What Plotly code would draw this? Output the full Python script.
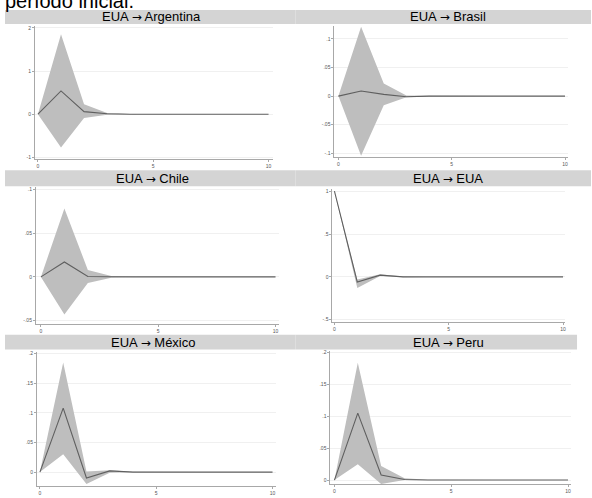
import plotly.graph_objects as go

W, H = 592, 498

# ---------------- data ----------------
periods = [0, 1, 2, 3, 4, 5, 6, 7, 8, 9, 10]
titles = ["EUA → Argentina", "EUA → Brasil", "EUA → Chile",
          "EUA → EUA", "EUA → México", "EUA → Peru"]
top_text = "período inicial."

irf_arg = [0, 0.54, 0.06, 0.01, 0.0, 0, 0, 0, 0, 0, 0]
up_arg = [0, 1.85, 0.23, 0.03, 0.004, 0, 0, 0, 0, 0, 0]
lo_arg = [0, -0.77, -0.09, -0.012, -0.002, 0, 0, 0, 0, 0, 0]

irf_bra = [0, 0.009, 0.003, -0.001, 0.0, 0, 0, 0, 0, 0, 0]
up_bra = [0, 0.121, 0.022, 0.001, 0.0005, 0, 0, 0, 0, 0, 0]
lo_bra = [0, -0.104, -0.016, -0.002, -0.0005, 0, 0, 0, 0, 0, 0]

irf_chi = [0, 0.017, 0.0005, 0.0, 0.0, 0, 0, 0, 0, 0, 0]
up_chi = [0, 0.078, 0.008, 0.001, 0.0002, 0, 0, 0, 0, 0, 0]
lo_chi = [0, -0.043, -0.007, -0.001, -0.0002, 0, 0, 0, 0, 0, 0]

irf_eua = [1, -0.06, 0.02, 0.0, 0.0, 0, 0, 0, 0, 0, 0]
up_eua = [1, -0.03, 0.03, 0.004, 0.0, 0, 0, 0, 0, 0, 0]
lo_eua = [1, -0.13, 0.01, -0.003, 0.0, 0, 0, 0, 0, 0, 0]

irf_mex = [0, 0.108, -0.010, 0.002, 0.0, 0, 0, 0, 0, 0, 0]
up_mex = [0, 0.185, 0.001, 0.003, 0.0005, 0, 0, 0, 0, 0, 0]
lo_mex = [0, 0.030, -0.020, -0.001, 0.0, 0, 0, 0, 0, 0, 0]

irf_per = [0, 0.105, 0.008, 0.001, 0.0, 0, 0, 0, 0, 0, 0]
up_per = [0, 0.184, 0.022, 0.003, 0.0005, 0, 0, 0, 0, 0, 0]
lo_per = [0, 0.025, -0.006, 0.0, 0.0, 0, 0, 0, 0, 0, 0]

xticks = [0, 5, 10]
xtick_labels = ["0", "5", "10"]

yt_arg = [-1, 0, 1, 2];            yl_arg = ["-1", "0", "1", "2"]
yt_bra = [-0.1, -0.05, 0, 0.05, 0.1]; yl_bra = ["-.1", "-.05", "0", ".05", ".1"]
yt_chi = [-0.05, 0, 0.05, 0.1];    yl_chi = ["-.05", "0", ".05", ".1"]
yt_eua = [-0.5, 0, 0.5, 1];        yl_eua = ["-.5", "0", ".5", "1"]
yt_mex = [0, 0.05, 0.1, 0.15, 0.2]; yl_mex = ["0", ".05", ".1", ".15", ".2"]
yt_per = [0, 0.05, 0.1, 0.15, 0.2]; yl_per = ["0", ".05", ".1", ".15", ".2"]

series = [
    (irf_arg, up_arg, lo_arg, yt_arg, yl_arg),
    (irf_bra, up_bra, lo_bra, yt_bra, yl_bra),
    (irf_chi, up_chi, lo_chi, yt_chi, yl_chi),
    (irf_eua, up_eua, lo_eua, yt_eua, yl_eua),
    (irf_mex, up_mex, lo_mex, yt_mex, yl_mex),
    (irf_per, up_per, lo_per, yt_per, yl_per),
]

# ---------------- layout (pixel geometry) ----------------
panels = [
    dict(l=35, r=273, t=25, b=159, x0=38, x10=269, ya=(2, 27), yb=(-1, 157)),
    dict(l=335, r=569, t=25, b=157, x0=339, x10=566, ya=(0.1, 38), yb=(-0.1, 153)),
    dict(l=36, r=279, t=187, b=324, x0=41, x10=276, ya=(0.1, 189), yb=(-0.05, 321)),
    dict(l=333, r=566, t=189, b=322, x0=335, x10=564, ya=(1, 191), yb=(-0.5, 320)),
    dict(l=37, r=276, t=352, b=487, x0=40, x10=273, ya=(0.2, 354), yb=(0, 473)),
    dict(l=331, r=572, t=351, b=485, x0=335, x10=569, ya=(0.2, 353), yb=(0, 481)),
]
bars = [  # x0, x1, y0, y1, text center x
    (5, 296, 9, 23, 152), (296, 592, 9, 23, 449),
    (5, 296, 170, 186, 153), (296, 592, 170, 186, 449),
    (5, 296, 335, 350, 153), (296, 578, 335, 350, 449),
]

FILL = "#bebebe"
LINE = "#5f5f5f"
AXIS = "#a8a8a8"
GRID = "#f0f0f0"
BAR = "#d4d4d4"
ARROW = '<span style="font-family:DejaVu Sans;font-size:12px">→</span>'

fig = go.Figure()
layout = dict(
    width=W, height=H, margin=dict(l=0, r=0, t=0, b=0),
    paper_bgcolor="white", plot_bgcolor="white", showlegend=False,
    font=dict(family="Liberation Sans, Arial, sans-serif"),
)
shapes, annotations = [], []

for i, (p, (irf, up, lo, yt, yl), bar, title) in enumerate(zip(panels, series, bars, titles)):
    n = i + 1
    xa = "x" if n == 1 else f"x{n}"
    ya = "y" if n == 1 else f"y{n}"
    sx = (p["x10"] - p["x0"]) / 10.0
    xr = [(p["l"] - p["x0"]) / sx, (p["r"] - p["x0"]) / sx]
    (va, pa), (vb, pb) = p["ya"], p["yb"]
    sy = (pb - pa) / (vb - va)
    yr = [va + (p["b"] - pa) / sy, va + (p["t"] - pa) / sy]

    fig.add_trace(go.Scatter(x=periods, y=lo, mode="lines", line=dict(width=0, color=FILL),
                             xaxis=xa, yaxis=ya, hoverinfo="skip"))
    fig.add_trace(go.Scatter(x=periods, y=up, mode="lines", line=dict(width=0, color=FILL),
                             fill="tonexty", fillcolor=FILL, xaxis=xa, yaxis=ya, hoverinfo="skip"))
    fig.add_trace(go.Scatter(x=periods, y=irf, mode="lines", line=dict(width=1.1, color=LINE),
                             xaxis=xa, yaxis=ya))

    xkey = "xaxis" if n == 1 else f"xaxis{n}"
    ykey = "yaxis" if n == 1 else f"yaxis{n}"
    layout[xkey] = dict(
        domain=[p["l"] / W, p["r"] / W], anchor=ya, range=xr,
        tickvals=xticks, ticktext=xtick_labels, ticks="outside", ticklen=2,
        tickcolor=AXIS, tickfont=dict(size=5, color="#555"),
        showline=True, linecolor=AXIS, linewidth=1, showgrid=False, zeroline=False,
    )
    layout[ykey] = dict(
        domain=[1 - p["b"] / H, 1 - p["t"] / H], anchor=xa, range=yr,
        tickvals=yt, ticktext=yl, ticks="outside", ticklen=2,
        tickcolor=AXIS, tickfont=dict(size=5, color="#555"),
        showline=True, linecolor=AXIS, linewidth=1,
        showgrid=True, gridcolor=GRID, gridwidth=1, zeroline=False,
    )

    bx0, bx1, by0, by1, tcx = bar
    shapes.append(dict(type="rect", xref="paper", yref="paper",
                       x0=bx0 / W, x1=bx1 / W, y0=1 - by1 / H, y1=1 - by0 / H,
                       fillcolor=BAR, line=dict(width=0), layer="below"))
    annotations.append(dict(text=title.replace("→", ARROW), xref="paper", yref="paper",
                            x=tcx / W, y=1 - (by0 + by1) / 2 / H,
                            xanchor="center", yanchor="middle", showarrow=False,
                            font=dict(size=13, color="black")))

annotations.append(dict(text=top_text, xref="paper", yref="paper",
                        x=3 / W, y=1.0, xanchor="left", yanchor="middle",
                        showarrow=False, font=dict(size=20, color="black")))

layout["shapes"] = shapes
layout["annotations"] = annotations
fig.update_layout(**layout)
fig.write_html("out.html", config={"displayModeBar": False},
               post_script="document.body.style.margin='0';")
